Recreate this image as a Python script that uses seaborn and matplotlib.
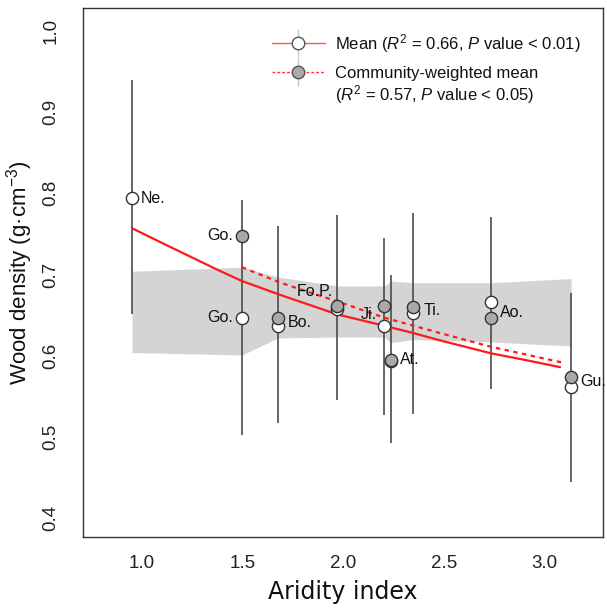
import numpy as np
import matplotlib
matplotlib.use("Agg")
import matplotlib.pyplot as plt
import seaborn as sns
from matplotlib.lines import Line2D
from matplotlib.legend_handler import HandlerTuple

# ---------------- data ----------------
sites = ["Ne.", "Go.", "Bo.", "Fo.P.", "Ji.", "At.", "Ti.", "Ao.", "Gu."]
aridity = [0.952, 1.498, 1.676, 1.971, 2.204, 2.237, 2.348, 2.734, 3.131]
mean_wd = [0.794, 0.647, 0.637, 0.658, 0.637, 0.593, 0.653, 0.666, 0.562]
cwm_wd = [np.nan, 0.748, 0.647, 0.661, 0.661, 0.595, 0.660, 0.647, 0.574]
err_lo = [0.652, 0.502, 0.517, 0.545, 0.527, 0.493, 0.528, 0.559, 0.445]
err_hi = [0.940, 0.792, 0.760, 0.773, 0.745, 0.700, 0.776, 0.771, 0.677]

# null-model envelope (grey band)
band_x = [0.952, 1.498, 1.676, 1.971, 2.204, 2.237, 2.348, 2.734, 3.131]
band_lo = [0.604, 0.601, 0.622, 0.623, 0.623, 0.616, 0.620, 0.617, 0.612]
band_hi = [0.704, 0.709, 0.697, 0.686, 0.686, 0.692, 0.690, 0.690, 0.695]

# fitted curves
fit_mean_x = [0.952, 1.10, 1.25, 1.375, 1.498, 1.687, 1.970, 2.203, 2.348, 2.48,
              2.734, 2.90, 3.076]
fit_mean_y = [0.757, 0.739, 0.721, 0.706, 0.692, 0.675, 0.651, 0.637, 0.628, 0.619,
              0.603, 0.595, 0.586]
fit_cwm_x = [1.498, 1.687, 1.970, 2.203, 2.48, 2.734, 3.10]
fit_cwm_y = [0.709, 0.690, 0.667, 0.647, 0.628, 0.611, 0.591]

x_ticks = [1.0, 1.5, 2.0, 2.5, 3.0]
y_ticks = [0.4, 0.5, 0.6, 0.7, 0.8, 0.9, 1.0]

legend_labels = ["Mean ($R^2$ = 0.66, $P$ value < 0.01)",
                 "Community-weighted mean",
                 "($R^2$ = 0.57, $P$ value < 0.05)"]

# ---------------- style ----------------
sns.set_style("white")
plt.rcParams["font.family"] = ["Liberation Sans", "DejaVu Sans"]
plt.rcParams["mathtext.fontset"] = "custom"
plt.rcParams["mathtext.rm"] = "Liberation Sans"
plt.rcParams["mathtext.it"] = "Liberation Sans:italic"
plt.rcParams["mathtext.bf"] = "Liberation Sans:bold"

W, H = 607, 614
fig = plt.figure(figsize=(W / 100, H / 100), dpi=100)
ax = fig.add_axes([83 / W, 1 - 537 / H, 520 / W, 529 / H])

px = 0.72  # points per pixel

# band
ax.fill_between(band_x, band_lo, band_hi, color="#d4d4d4", lw=0, zorder=1)

# error bars
ax.vlines(aridity, err_lo, err_hi, color="#4a4a4a", lw=1.2, zorder=2)

# fitted curves
sns.lineplot(x=fit_mean_x, y=fit_mean_y, sort=False, color="#ff1a1a", lw=1.6,
             ax=ax, zorder=3)
sns.lineplot(x=fit_cwm_x, y=fit_cwm_y, sort=False, color="#ff1a1a", lw=1.6,
             linestyle=(0, (2, 2)), ax=ax, zorder=3)

# points
sns.scatterplot(x=aridity, y=mean_wd, s=78, color="white", edgecolor="#333333",
                linewidth=1.0, ax=ax, zorder=4)
sns.scatterplot(x=aridity, y=cwm_wd, s=78, color="#a9a9a9", edgecolor="#333333",
                linewidth=1.0, ax=ax, zorder=5)

# site labels: (index, series, ha, dx px, dy px)
label_specs = [(0, "mean", "left", 9, 0),
               (1, "cwm", "right", -9, 0),
               (1, "mean", "right", -9, 0),
               (2, "cwm", "left", 10, -5),
               (3, "cwm", "right", -4, 15),
               (4, "cwm", "right", -7, -8),
               (5, "cwm", "left", 9, 0),
               (6, "cwm", "left", 10, -3),
               (7, "mean", "left", 9, -10),
               (8, "cwm", "left", 9, -5)]
for i, ser, ha, dx, dy in label_specs:
    yv = mean_wd[i] if ser == "mean" else cwm_wd[i]
    ax.annotate(sites[i], xy=(aridity[i], yv), xytext=(dx * px, dy * px),
                textcoords="offset points", ha=ha, va="center",
                fontsize=11.5, color="#111111", zorder=6)

# axes
ax.set_xlim(0.709, 3.289)
ax.set_ylim(0.377, 1.028)
ax.set_xticks(x_ticks)
ax.set_yticks(y_ticks)
ax.set_xticklabels([f"{v:.1f}" for v in x_ticks])
ax.set_yticklabels([f"{v:.1f}" for v in y_ticks], rotation=90, va="center")
ax.tick_params(axis="both", direction="out", length=6, width=1, color="#333333",
               labelsize=13.5, labelcolor="#222222")
ax.tick_params(axis="x", pad=7)
ax.tick_params(axis="y", pad=11)
for sp in ax.spines.values():
    sp.set_visible(True)
    sp.set_color("#333333")
    sp.set_linewidth(1.0)

ax.set_xlabel("Aridity index", fontsize=17, family=["DejaVu Sans"], color="#111111",
              labelpad=6)
ax.set_ylabel("Wood density (g·cm$^{-3}$)", fontsize=16, color="#111111",
              va="center")
ax.yaxis.set_label_coords(-0.122, 0.5)

# legend
vbar = dict(color="#c8c8c8", marker="|", markersize=20, linestyle="None",
            markeredgewidth=1.0)
h_mean = (Line2D([], [], **vbar),
          Line2D([], [], color="#ff5555", lw=1.0, marker="o", mfc="white",
                 mec="#555555", ms=9))
h_cwm = (Line2D([], [], **vbar),
         Line2D([], [], color="#ff3333", lw=1.0, linestyle=(0, (2, 1.5)),
                marker="o", mfc="#a9a9a9", mec="#555555", ms=9))
leg = ax.legend([h_mean, h_cwm], legend_labels[:2],
                handler_map={tuple: HandlerTuple(ndivide=1, pad=0)},
                loc="upper left", bbox_to_anchor=(0.363, 0.955),
                frameon=False, fontsize=12, handlelength=3.2, handletextpad=0.6,
                borderpad=0, borderaxespad=0, labelspacing=0.65)
for t in leg.get_texts():
    t.set_color("#111111")

fig.canvas.draw()
bb = leg.get_texts()[1].get_window_extent(fig.canvas.get_renderer())
fig.text(bb.x0 / W, (bb.y0 - 3) / H, legend_labels[2], ha="left", va="top",
         fontsize=12, color="#111111")

fig.savefig("out.png", dpi=100)
